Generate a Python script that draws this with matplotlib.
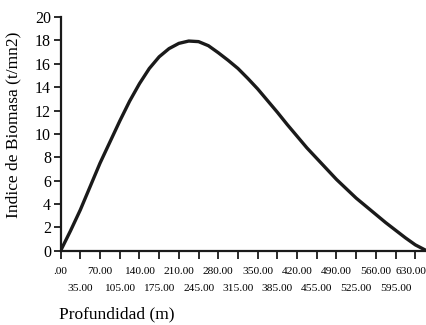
import numpy as np
import matplotlib
matplotlib.use("Agg")
import matplotlib.pyplot as plt
import matplotlib.transforms as mtransforms

# depth (m) and biomass index
profundidad = [0, 17.5, 35, 52.5, 70, 87.5, 105, 122.5, 140, 157.5, 175, 192.5,
               210, 227.5, 245, 262.5, 280, 297.5, 315, 332.5, 350, 367.5, 385,
               402.5, 420, 437.5, 455, 472.5, 490, 507.5, 525, 542.5, 560, 577.5,
               595, 612.5, 630, 650]
biomasa = [0, 1.7, 3.5, 5.5, 7.5, 9.3, 11.1, 12.8, 14.3, 15.6, 16.6, 17.3,
           17.75, 17.95, 17.9, 17.55, 16.95, 16.3, 15.6, 14.75, 13.85, 12.85, 11.85,
           10.8, 9.8, 8.8, 7.9, 7.0, 6.1, 5.3, 4.5, 3.8, 3.1, 2.4,
           1.75, 1.1, 0.5, 0]

x_top = [0, 70, 140, 210, 280, 350, 420, 490, 560, 630]
x_top_labels = [".00", "70.00", "140.00", "210.00", "280.00", "350.00",
                "420.00", "490.00", "560.00", "630.00"]
x_bot = [35, 105, 175, 245, 315, 385, 455, 525, 595]
x_bot_labels = ["35.00", "105.00", "175.00", "245.00", "315.00", "385.00",
                "455.00", "525.00", "595.00"]
y_ticks = list(range(0, 21, 2))

plt.rcParams['font.family'] = ['Liberation Serif', 'DejaVu Serif']

fig = plt.figure(figsize=(4.27, 3.25), dpi=100)
ax = fig.add_axes([0.142, 0.2286, 0.857, 0.7188])

ax.plot(profundidad, biomasa, color='#1a1a1a', lw=2.4, solid_capstyle='round')

ax.set_xlim(0, 650)
ax.set_ylim(0, 20)

for s in ['top', 'right']:
    ax.spines[s].set_visible(False)
for s in ['left', 'bottom']:
    ax.spines[s].set_linewidth(1.6)
    ax.spines[s].set_color('#1a1a1a')

ax.set_yticks(y_ticks)
ax.set_xticks(x_top)
ax.set_xticklabels(x_top_labels)
ax.set_xticks(x_bot, minor=True)
ax.set_xticklabels(x_bot_labels, minor=True)

ax.tick_params(axis='y', length=5, width=1.3, pad=2, labelsize=11.5, color='#1a1a1a')
ax.tick_params(axis='x', which='both', length=5.5, width=1.3, labelsize=8.2,
               color='#1a1a1a')
ax.tick_params(axis='x', which='major', pad=6.5)
ax.tick_params(axis='x', which='minor', pad=18.5)

# keep the last top-row label inside the figure edge
last = ax.get_xticklabels()[-1]
last.set_transform(last.get_transform() +
                   mtransforms.ScaledTranslation(-4 / 100, 0, fig.dpi_scale_trans))

fig.text(117 / 427, 1 - 314 / 325, "Profundidad (m)", ha='center', va='center',
         fontsize=12.5)
fig.text(13 / 427, 1 - 125 / 325, "Indice de Biomasa (t/mn2)", ha='center',
         va='center', rotation=90, fontsize=12.5)

fig.savefig("out.png", dpi=100)
